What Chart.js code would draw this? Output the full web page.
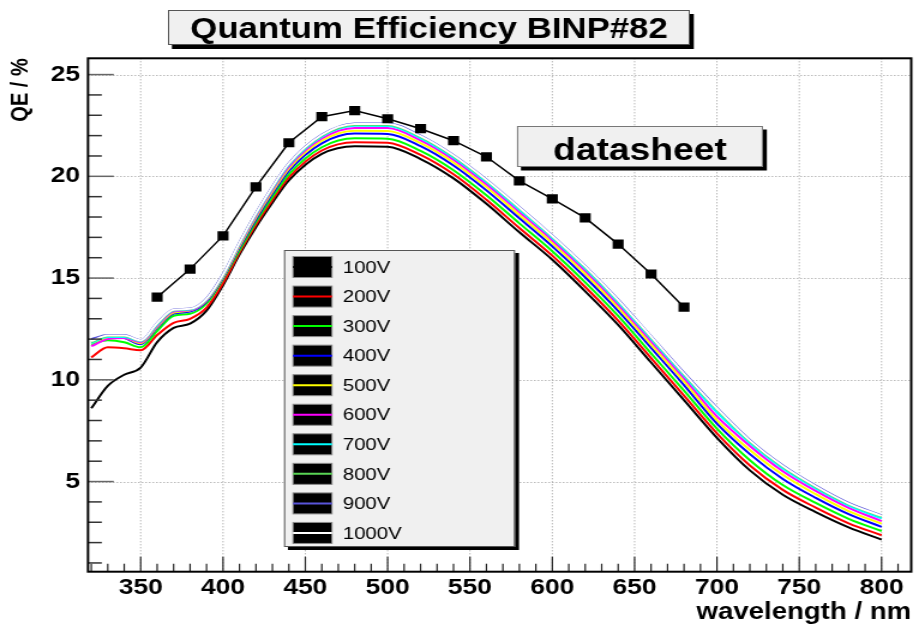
<!DOCTYPE html>
<html>
<head>
<meta charset="utf-8">
<title>Quantum Efficiency BINP#82</title>
<script src="https://cdn.jsdelivr.net/npm/chart.js@4.4.1/dist/chart.umd.min.js"></script>
<style>
  html, body { margin: 0; padding: 0; background: #ffffff; }
  #qe { display: block; width: 919px; height: 625px; }
</style>
</head>
<body>
<canvas id="qe" width="766" height="625" style="width:919px;height:625px"></canvas>
<script>
// Wavelength grid (nm) shared by all voltage scans
const wavelengths = [320, 330, 340, 350, 360, 370, 380, 390, 400, 410, 420, 430, 440,
  460, 480, 500, 520, 540, 560, 580, 600, 620, 640, 660, 680, 700, 720, 740, 760, 780, 800];

// Quantum efficiency (%) per supply voltage
const qe100V  = [8.6, 9.7, 10.25, 10.6, 11.85, 12.55, 12.76, 13.4, 14.65, 16.15, 17.5, 18.7, 19.8,
  21.1, 21.48, 21.45, 20.85, 19.9, 18.65, 17.25, 15.9, 14.35, 12.7, 10.85, 9.0, 7.15, 5.55, 4.35, 3.5, 2.75, 2.15];
const qe200V  = [11.1, 11.6, 11.55, 11.45, 12.2, 12.8, 13.0, 13.55, 14.75, 16.25, 17.62, 18.84, 19.95,
  21.27, 21.68, 21.65, 21.05, 20.1, 18.85, 17.46, 16.1, 14.56, 12.91, 11.07, 9.22, 7.37, 5.79, 4.59, 3.72, 2.95, 2.36];
const qe300V  = [11.75, 11.95, 11.85, 11.6, 12.4, 13.15, 13.25, 13.75, 14.95, 16.36, 17.75, 18.98, 20.1,
  21.43, 21.87, 21.85, 21.25, 20.3, 19.07, 17.69, 16.32, 14.79, 13.14, 11.3, 9.47, 7.6, 6.05, 4.83, 3.95, 3.17, 2.57];
const qe400V  = [12.0, 12.1, 12.05, 11.75, 12.55, 13.25, 13.35, 13.85, 15.0, 16.48, 17.88, 19.14, 20.27,
  21.62, 22.1, 22.08, 21.48, 20.53, 19.31, 17.94, 16.56, 15.04, 13.39, 11.57, 9.74, 7.85, 6.35, 5.13, 4.2, 3.4, 2.77];
const qe500V  = [11.8, 12.05, 12.05, 11.8, 12.6, 13.3, 13.4, 13.9, 15.05, 16.56, 17.98, 19.24, 20.38,
  21.75, 22.24, 22.23, 21.63, 20.68, 19.47, 18.1, 16.72, 15.2, 13.55, 11.73, 9.92, 8.02, 6.55, 5.33, 4.38, 3.55, 2.93];
const qe600V  = [11.65, 12.0, 12.05, 11.85, 12.65, 13.35, 13.42, 13.92, 15.1, 16.63, 18.06, 19.34, 20.48,
  21.86, 22.38, 22.37, 21.77, 20.82, 19.61, 18.25, 16.86, 15.35, 13.7, 11.89, 10.08, 8.2, 6.75, 5.51, 4.54, 3.71, 3.06];
const qe700V  = [11.8, 12.1, 12.1, 11.9, 12.7, 13.4, 13.45, 13.95, 15.12, 16.68, 18.12, 19.41, 20.56,
  21.95, 22.48, 22.47, 21.87, 20.92, 19.72, 18.36, 16.97, 15.46, 13.81, 12.01, 10.2, 8.4, 6.89, 5.64, 4.66, 3.82, 3.19];
const qe800V  = [11.85, 12.15, 12.15, 11.92, 12.75, 13.42, 13.48, 13.97, 15.15, 16.72, 18.17, 19.46, 20.61,
  22.0, 22.54, 22.54, 21.94, 20.99, 19.79, 18.44, 17.04, 15.54, 13.89, 12.09, 10.28, 8.55, 6.98, 5.73, 4.74, 3.89, 3.28];
const qe900V  = [12.0, 12.2, 12.2, 11.95, 12.8, 13.45, 13.5, 14.0, 15.2, 16.75, 18.2, 19.5, 20.65,
  22.05, 22.6, 22.6, 22.0, 21.05, 19.85, 18.5, 17.1, 15.6, 13.95, 12.15, 10.35, 8.63, 7.05, 5.8, 4.8, 3.95, 3.34];
const qe1000V = [11.9, 12.18, 12.18, 11.93, 12.78, 13.44, 13.49, 13.98, 15.17, 16.73, 18.18, 19.48, 20.63,
  22.03, 22.57, 22.57, 21.97, 21.02, 19.82, 18.47, 17.07, 15.57, 13.92, 12.12, 10.31, 8.59, 7.01, 5.76, 4.77, 3.92, 3.31];

const voltageLabels = ['100V', '200V', '300V', '400V', '500V', '600V', '700V', '800V', '900V', '1000V'];
const voltageSeries = [qe100V, qe200V, qe300V, qe400V, qe500V, qe600V, qe700V, qe800V, qe900V, qe1000V];
const lineColors = ['#000000', '#ff0000', '#00ff00', '#0000ff', '#ffff00',
  '#ff00ff', '#00ffff', '#59d454', '#5954d9', '#ffffff'];

// Manufacturer datasheet curve
const datasheetWavelengths = [360, 380, 400, 420, 440, 460, 480, 500, 520, 540, 560, 580, 600, 620, 640, 660, 680];
const datasheetQE = [14.06, 15.44, 17.07, 19.48, 21.65, 22.93, 23.23, 22.83, 22.34, 21.75, 20.96, 19.78, 18.89, 17.96, 16.67, 15.2, 13.57];

// Axis tick labels
const xMajorTicks = [350, 400, 450, 500, 550, 600, 650, 700, 750, 800];
const yMajorTicks = [5, 10, 15, 20, 25];
const xMinorTicks = [];
for (let v = 320; v <= 810; v += 10) xMinorTicks.push(v);
const yMinorTicks = [];
for (let v = 1; v <= 25; v += 1) yMinorTicks.push(v);

const FONT = '"Liberation Sans", Arial, Helvetica, sans-serif';

const datasets = voltageSeries.map((series, i) => ({
  label: voltageLabels[i],
  data: wavelengths.map((w, k) => ({ x: w, y: series[k] })),
  borderColor: lineColors[i],
  backgroundColor: lineColors[i],
  borderWidth: 2,
  pointRadius: 0,
  fill: false,
  cubicInterpolationMode: 'monotone',
  order: 20 - i
}));
datasets.push({
  label: 'datasheet',
  data: datasheetWavelengths.map((w, k) => ({ x: w, y: datasheetQE[k] })),
  borderColor: '#000000',
  backgroundColor: '#000000',
  borderWidth: 1.5,
  pointStyle: 'rect',
  pointRadius: 6.5,
  pointBackgroundColor: '#000000',
  pointBorderColor: '#000000',
  pointBorderWidth: 0,
  tension: 0,
  order: 0
});

function shadowBox(ctx, x, y, w, h, dx, dy, border) {
  ctx.fillStyle = '#000000';
  ctx.fillRect(x + dx, y + dy, w, h);
  ctx.fillStyle = '#f0f0f0';
  ctx.fillRect(x, y, w, h);
  ctx.strokeStyle = border;
  ctx.lineWidth = 1;
  ctx.strokeRect(x + 0.5, y + 0.5, w - 1, h - 1);
}

const rootStyle = {
  id: 'rootStyle',
  beforeDatasetsDraw(chart) {
    const { ctx, chartArea: a, scales: { x, y } } = chart;
    ctx.save();
    ctx.strokeStyle = '#999999';
    ctx.lineWidth = 1;
    ctx.setLineDash([1, 2]);
    xMajorTicks.forEach(v => {
      const px = x.getPixelForValue(v);
      ctx.beginPath(); ctx.moveTo(px, a.top); ctx.lineTo(px, a.bottom); ctx.stroke();
    });
    yMajorTicks.forEach(v => {
      const py = Math.round(y.getPixelForValue(v)) + 0.5;
      ctx.beginPath(); ctx.moveTo(a.left, py); ctx.lineTo(a.right, py); ctx.stroke();
    });
    ctx.restore();
  },
  afterDatasetsDraw(chart) {
    const { ctx, chartArea: a, scales: { x, y } } = chart;
    ctx.save();

    // tick marks, drawn inward from the axes
    ctx.strokeStyle = '#222222';
    ctx.lineWidth = 1.2;
    xMinorTicks.forEach(v => {
      const px = x.getPixelForValue(v);
      const len = xMajorTicks.includes(v) ? 15 : 8;
      ctx.beginPath(); ctx.moveTo(px, a.bottom); ctx.lineTo(px, a.bottom - len); ctx.stroke();
    });
    ctx.lineWidth = 1.5;
    yMinorTicks.forEach(v => {
      const py = y.getPixelForValue(v);
      const len = yMajorTicks.includes(v) ? 21.5 : 11.5;
      ctx.strokeStyle = yMajorTicks.includes(v) ? '#666666' : '#333333';
      ctx.beginPath(); ctx.moveTo(a.left, py); ctx.lineTo(a.left + len, py); ctx.stroke();
    });

    // frame
    ctx.strokeStyle = '#000000';
    ctx.lineWidth = 2;
    ctx.strokeRect(a.left, a.top, a.right - a.left, a.bottom - a.top);

    // legend
    const lx = 236.7, ly = 250, lw = 192.6, lh = 297;
    shadowBox(ctx, lx, ly, lw, lh, 3.3, 3, '#555555');
    voltageLabels.forEach((label, i) => {
      const cy = ly + 17 + i * 29.55;
      ctx.fillStyle = '#000000';
      ctx.fillRect(lx + 7.5, cy - 10.5, 32.5, 21);
      ctx.strokeStyle = '#8a8a8a';
      ctx.lineWidth = 1;
      ctx.strokeRect(lx + 7.5, cy - 10.5, 32.5, 21);
      ctx.strokeStyle = chart.data.datasets[i].borderColor;
      ctx.lineWidth = 2;
      ctx.beginPath(); ctx.moveTo(lx + 7.5, cy); ctx.lineTo(lx + 40, cy); ctx.stroke();
      ctx.fillStyle = '#000000';
      ctx.font = '17px ' + FONT;
      ctx.textAlign = 'left';
      ctx.textBaseline = 'middle';
      ctx.fillText(label, lx + 49, cy + 1);
    });

    // datasheet label
    shadowBox(ctx, 430.9, 126, 205, 41, 3.3, 3.5, '#777777');
    ctx.fillStyle = '#000000';
    ctx.font = 'bold 31px ' + FONT;
    ctx.textAlign = 'center';
    ctx.textBaseline = 'alphabetic';
    ctx.fillText('datasheet', 533.4, 160);

    // plot title
    shadowBox(ctx, 140, 10, 435, 35, 3.3, 4, '#555555');
    ctx.fillStyle = '#000000';
    ctx.font = 'bold 29px ' + FONT;
    ctx.fillText('Quantum Efficiency BINP#82', 357.6, 38);

    ctx.restore();
  }
};

new Chart(document.getElementById('qe'), {
  type: 'line',
  data: { datasets },
  options: {
    responsive: false,
    animation: false,
    devicePixelRatio: 1,
    layout: { padding: { top: 58.3, right: 3.3, left: 0, bottom: 0 } },
    plugins: { legend: { display: false }, tooltip: { enabled: false }, title: { display: false } },
    scales: {
      x: {
        type: 'linear', min: 318, max: 818,
        afterBuildTicks: s => { s.ticks = xMinorTicks.map(v => ({ value: v })); },
        afterFit: s => { s.height = 53.3; },
        grid: { display: false, drawTicks: false },
        border: { display: false },
        ticks: {
          autoSkip: false, maxRotation: 0, minRotation: 0, padding: 3, color: '#000000',
          font: { family: FONT, weight: 'bold', size: 22 },
          callback: v => xMajorTicks.includes(v) ? String(v) : ''
        },
        title: {
          display: true, text: 'wavelength / nm', align: 'end', color: '#000000',
          font: { family: FONT, weight: 'bold', size: 23, lineHeight: 1 },
          padding: { top: 0, bottom: 1 }
        }
      },
      y: {
        type: 'linear', min: 0.57, max: 25.8,
        afterBuildTicks: s => { s.ticks = yMinorTicks.map(v => ({ value: v })); },
        afterFit: s => { s.width = 73.35; },
        grid: { display: false, drawTicks: false },
        border: { display: false },
        ticks: {
          autoSkip: false, padding: 6.7, color: '#000000',
          font: { family: FONT, weight: 'bold', size: 22 },
          callback: v => yMajorTicks.includes(v) ? String(v) : ''
        },
        title: {
          display: true, text: 'QE / %', align: 'end', color: '#000000',
          font: { family: FONT, weight: 'bold', size: 20, lineHeight: 1 },
          padding: { top: 7.5, bottom: 0 }
        }
      }
    }
  },
  plugins: [rootStyle]
});
</script>
</body>
</html>
